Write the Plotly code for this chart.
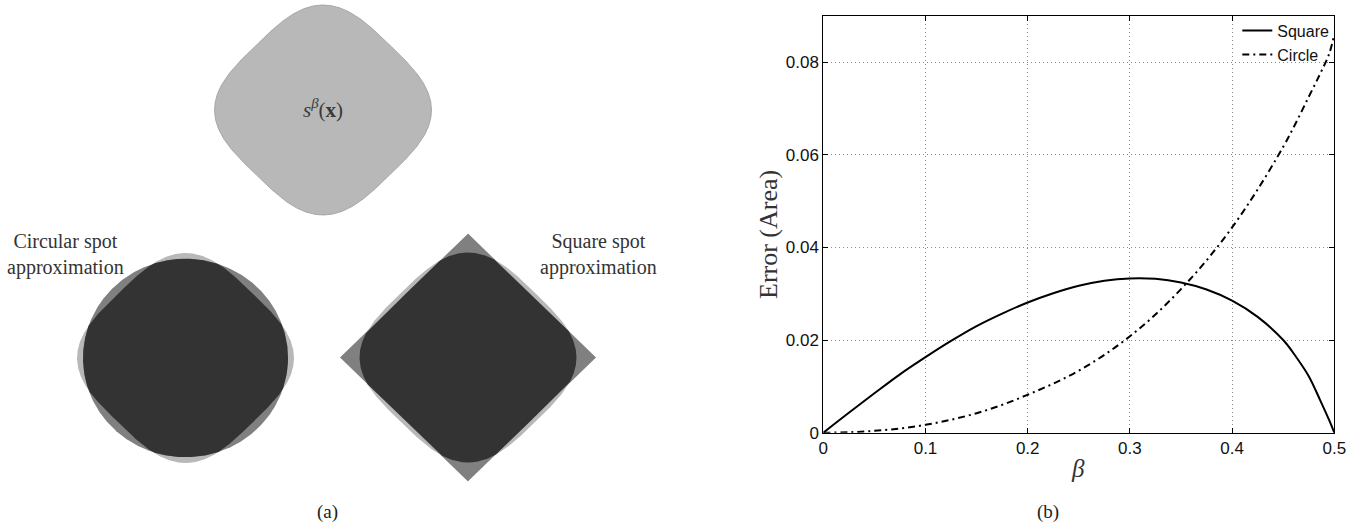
import numpy as np
import plotly.graph_objects as go

# ---------------- data ----------------
beta = [0, 0.025, 0.05, 0.075, 0.1, 0.125, 0.15, 0.175, 0.2, 0.225, 0.25,
        0.275, 0.3, 0.325, 0.35, 0.375, 0.4, 0.425, 0.45, 0.4625, 0.475, 0.486, 0.495, 0.5]
err_square = [0, 0.0043, 0.0085, 0.0126, 0.0163, 0.0198, 0.0230, 0.0257, 0.0281,
              0.0301, 0.0317, 0.0328, 0.0333, 0.0332, 0.0324, 0.0309, 0.0285,
              0.0250, 0.0200, 0.0164, 0.0122, 0.0071, 0.0027, 0]
err_circle = [0, 0.0001, 0.0004, 0.0009, 0.0017, 0.0028, 0.0042, 0.0060, 0.0082,
              0.0106, 0.0134, 0.0168, 0.0208, 0.0255, 0.0310, 0.0372, 0.0443,
              0.0525, 0.0617, 0.0669, 0.0725, 0.0774, 0.0818, 0.0860]
series_names = ["Square", "Circle"]
x_tickvals = [0, 0.1, 0.2, 0.3, 0.4, 0.5]
x_ticktext = ["0", "0.1", "0.2", "0.3", "0.4", "0.5"]
y_tickvals = [0, 0.02, 0.04, 0.06, 0.08]
y_ticktext = ["0", "0.02", "0.04", "0.06", "0.08"]

# ---------------- illustration geometry (panel a) ----------------
W, H = 1357, 528
Q_EXP = 3.3            # squircle exponent of s^beta(x) (rotated 45 degrees)
ASPECT = 0.968         # vertical squash of the illustration
SB_R = 108.5           # s^beta corner radius
CIRC_R = 102.5         # circular approximation radius
DIAM_R = 128.0         # square approximation half-diagonal
TOP_C = (323.0, 110.0)
CIRC_C = (185.5, 358.0)
SQ_C = (468.0, 357.5)

LIGHT = "#b8b8b8"
MED = "#808080"
DARK = "#333333"

theta = np.linspace(0, 2 * np.pi, 1441)


def r_squircle(R, q):
    c = np.abs(np.cos(theta - np.pi / 4)) ** q
    s = np.abs(np.sin(theta - np.pi / 4)) ** q
    k = 2.0 * 2.0 ** (-q / 2.0)
    return R * (k / (c + s)) ** (1.0 / q)


def r_diamond(R):
    return R / (np.abs(np.cos(theta)) + np.abs(np.sin(theta)))


def poly(center, r):
    cx, cy = center
    return cx + r * np.cos(theta), cy - ASPECT * r * np.sin(theta)


r_sb = r_squircle(SB_R, Q_EXP)
r_circ = np.full_like(theta, CIRC_R)
r_diam = r_diamond(DIAM_R)

fig = go.Figure()


def add_fill(xy, color, line_color=None, line_width=0):
    fig.add_trace(go.Scatter(
        x=xy[0], y=xy[1], mode="lines", fill="toself", fillcolor=color,
        line=dict(color=line_color or color, width=line_width),
        xaxis="x2", yaxis="y2", showlegend=False, hoverinfo="skip"))


# top shape
add_fill(poly(TOP_C, r_sb), LIGHT, "#9c9c9c", 0.8)
# circular approximation panel
add_fill(poly(CIRC_C, r_sb), LIGHT)
add_fill(poly(CIRC_C, r_circ), MED)
add_fill(poly(CIRC_C, np.minimum(r_sb, r_circ)), DARK)
# square approximation panel
add_fill(poly(SQ_C, r_sb), LIGHT)
add_fill(poly(SQ_C, r_diam), MED)
add_fill(poly(SQ_C, np.minimum(r_sb, r_diam)), DARK)

# ---------------- line plot (panel b) ----------------
fig.add_trace(go.Scatter(x=beta, y=err_square, mode="lines", name=series_names[0],
                         line=dict(color="black", width=2, shape="spline", smoothing=1.0)))
fig.add_trace(go.Scatter(x=beta, y=err_circle, mode="lines", name=series_names[1],
                         line=dict(color="black", width=2, dash="7px,4px,2px,4px",
                                   shape="spline", smoothing=1.0)))

x0, x1 = 823.3 / W, 1334.3 / W
y0, y1 = 1 - 432.7 / H, 1 - 15.7 / H

tickfont = dict(family="Liberation Sans, Arial, sans-serif", size=17, color="#111")
axis_common = dict(showline=True, linecolor="black", linewidth=1, mirror="ticks",
                   ticks="inside", ticklen=5, tickcolor="black", tickwidth=1,
                   showgrid=True, gridcolor="#8a8a8a", gridwidth=1, griddash="1px,3px",
                   zeroline=False, tickfont=tickfont, automargin=False)

serif = "Liberation Serif, Times New Roman, serif"
label_color = "#333333"

fig.update_layout(
    width=W, height=H,
    margin=dict(l=0, r=0, t=0, b=0, pad=0, autoexpand=False),
    paper_bgcolor="white", plot_bgcolor="white",
    xaxis=dict(domain=[x0, x1], range=[0, 0.5], tickvals=x_tickvals, ticktext=x_ticktext,
               **axis_common),
    yaxis=dict(domain=[y0, y1], range=[0, 0.09], tickvals=y_tickvals, ticktext=y_ticktext,
               **axis_common),
    xaxis2=dict(domain=[0, 0.55], range=[0, 0.55 * W], visible=False, anchor="y2",
                automargin=False),
    yaxis2=dict(domain=[0, 1], range=[H, 0], visible=False, anchor="x2", automargin=False),
    legend=dict(x=x1, xanchor="right", y=y1 + 2 / H, yanchor="top", bgcolor="rgba(0,0,0,0)",
                borderwidth=0, font=dict(family="Liberation Sans, Arial, sans-serif",
                                         size=16, color="#111"),
                tracegroupgap=0),
    showlegend=True,
)

annotations = [
    dict(text="<i>s</i><sup><i>β</i></sup>(<b>x</b>)", x=TOP_C[0], y=TOP_C[1] - 2,
         xref="x2", yref="y2", font=dict(family=serif, size=21, color="#3a3a3a")),
    dict(text="Circular spot<br>approximation", x=65, y=254, xref="x2", yref="y2",
         font=dict(family=serif, size=20, color=label_color)),
    dict(text="Square spot<br>approximation", x=598.5, y=254, xref="x2", yref="y2",
         font=dict(family=serif, size=20, color=label_color)),
    dict(text="(a)", x=327 / W, y=1 - 512 / H, xref="paper", yref="paper",
         font=dict(family=serif, size=19, color="#222")),
    dict(text="(b)", x=1048 / W, y=1 - 512 / H, xref="paper", yref="paper",
         font=dict(family=serif, size=19, color="#222")),
    dict(text="<i>β</i>", x=1078 / W, y=1 - 468 / H, xref="paper", yref="paper",
         font=dict(family=serif, size=25, color=label_color)),
    dict(text="Error (Area)", x=768 / W, y=1 - 235 / H, xref="paper", yref="paper",
         textangle=-90, font=dict(family=serif, size=26, color=label_color)),
]
for a in annotations:
    a.setdefault("showarrow", False)
    a.setdefault("xanchor", "center")
    a.setdefault("yanchor", "middle")
fig.update_layout(annotations=annotations)

fig.write_html("out.html", config={"displayModeBar": False},
               post_script="document.body.style.margin='0';document.body.style.overflow='hidden';")
